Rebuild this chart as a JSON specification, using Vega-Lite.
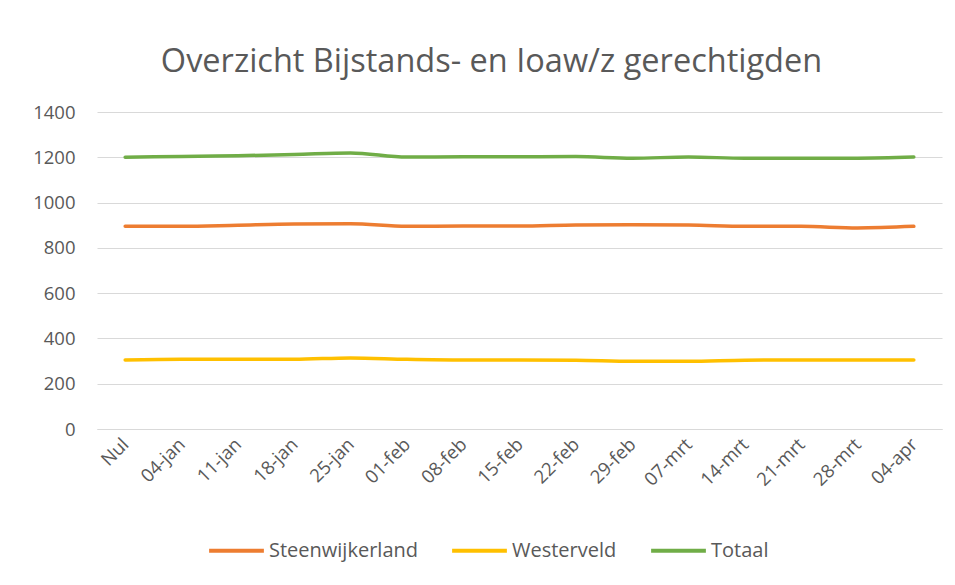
{
  "$schema": "https://vega.github.io/schema/vega-lite/v6.json",
  "width": 845,
  "height": 317,
  "autosize": {"type": "none"},
  "padding": {"left": 97, "top": 112, "right": 13, "bottom": 156},
  "background": "white",
  "title": {
    "text": "Overzicht Bijstands- en Ioaw/z gerechtigden",
    "font": "Open Sans",
    "fontSize": 32.5,
    "fontWeight": "normal",
    "color": "#595959",
    "anchor": "middle",
    "dx": -28,
    "offset": 25
  },
  "config": {
    "view": {"stroke": null},
    "font": "Open Sans",
    "axis": {"labelFont": "Open Sans", "labelColor": "#595959", "labelFontSize": 18.5, "domain": false, "ticks": false, "title": null},
    "legend": {"labelFont": "Open Sans", "labelColor": "#595959", "labelFontSize": 20}
  },
  "data": {
    "values": [
      {"week": "Nul", "serie": "Steenwijkerland", "value": 895},
      {"week": "04-jan", "serie": "Steenwijkerland", "value": 895},
      {"week": "11-jan", "serie": "Steenwijkerland", "value": 900},
      {"week": "18-jan", "serie": "Steenwijkerland", "value": 905},
      {"week": "25-jan", "serie": "Steenwijkerland", "value": 906},
      {"week": "01-feb", "serie": "Steenwijkerland", "value": 895},
      {"week": "08-feb", "serie": "Steenwijkerland", "value": 896},
      {"week": "15-feb", "serie": "Steenwijkerland", "value": 896},
      {"week": "22-feb", "serie": "Steenwijkerland", "value": 901},
      {"week": "29-feb", "serie": "Steenwijkerland", "value": 902},
      {"week": "07-mrt", "serie": "Steenwijkerland", "value": 901},
      {"week": "14-mrt", "serie": "Steenwijkerland", "value": 895},
      {"week": "21-mrt", "serie": "Steenwijkerland", "value": 895},
      {"week": "28-mrt", "serie": "Steenwijkerland", "value": 888},
      {"week": "04-apr", "serie": "Steenwijkerland", "value": 895},
      {"week": "Nul", "serie": "Westerveld", "value": 305},
      {"week": "04-jan", "serie": "Westerveld", "value": 308},
      {"week": "11-jan", "serie": "Westerveld", "value": 308},
      {"week": "18-jan", "serie": "Westerveld", "value": 308},
      {"week": "25-jan", "serie": "Westerveld", "value": 314},
      {"week": "01-feb", "serie": "Westerveld", "value": 308},
      {"week": "08-feb", "serie": "Westerveld", "value": 305},
      {"week": "15-feb", "serie": "Westerveld", "value": 305},
      {"week": "22-feb", "serie": "Westerveld", "value": 304},
      {"week": "29-feb", "serie": "Westerveld", "value": 299},
      {"week": "07-mrt", "serie": "Westerveld", "value": 299},
      {"week": "14-mrt", "serie": "Westerveld", "value": 304},
      {"week": "21-mrt", "serie": "Westerveld", "value": 305},
      {"week": "28-mrt", "serie": "Westerveld", "value": 305},
      {"week": "04-apr", "serie": "Westerveld", "value": 305},
      {"week": "Nul", "serie": "Totaal", "value": 1200},
      {"week": "04-jan", "serie": "Totaal", "value": 1204},
      {"week": "11-jan", "serie": "Totaal", "value": 1207},
      {"week": "18-jan", "serie": "Totaal", "value": 1212},
      {"week": "25-jan", "serie": "Totaal", "value": 1219},
      {"week": "01-feb", "serie": "Totaal", "value": 1201},
      {"week": "08-feb", "serie": "Totaal", "value": 1202},
      {"week": "15-feb", "serie": "Totaal", "value": 1202},
      {"week": "22-feb", "serie": "Totaal", "value": 1203},
      {"week": "29-feb", "serie": "Totaal", "value": 1196},
      {"week": "07-mrt", "serie": "Totaal", "value": 1201},
      {"week": "14-mrt", "serie": "Totaal", "value": 1196},
      {"week": "21-mrt", "serie": "Totaal", "value": 1196},
      {"week": "28-mrt", "serie": "Totaal", "value": 1196},
      {"week": "04-apr", "serie": "Totaal", "value": 1201}
    ]
  },
  "mark": {"type": "line", "interpolate": "monotone", "strokeWidth": 3.5, "strokeCap": "round"},
  "encoding": {
    "x": {
      "field": "week",
      "type": "ordinal",
      "sort": ["Nul","04-jan","11-jan","18-jan","25-jan","01-feb","08-feb","15-feb","22-feb","29-feb","07-mrt","14-mrt","21-mrt","28-mrt","04-apr"],
      "scale": {"type": "point", "padding": 0.5},
      "axis": {"labelAngle": -45, "labelAlign": "right", "labelBaseline": "middle", "labelPadding": 12, "grid": false, "domain": true, "domainColor": "#D9D9D9", "domainWidth": 1}
    },
    "y": {
      "field": "value",
      "type": "quantitative",
      "scale": {"domain": [0, 1400]},
      "axis": {"values": [0,200,400,600,800,1000,1200,1400], "format": "d", "grid": true, "gridColor": "#D9D9D9", "gridWidth": 1, "labelPadding": 22}
    },
    "color": {
      "field": "serie",
      "type": "nominal",
      "scale": {"domain": ["Steenwijkerland", "Westerveld", "Totaal"], "range": ["#ED7D31", "#FFC000", "#70AD47"]},
      "legend": {
        "title": null,
        "orient": "none",
        "direction": "horizontal",
        "legendX": 110,
        "legendY": 409,
        "symbolType": "stroke",
        "symbolStrokeWidth": 4,
        "symbolSize": 3000,
        "labelOffset": 3,
        "columnPadding": 26
      }
    }
  }
}
